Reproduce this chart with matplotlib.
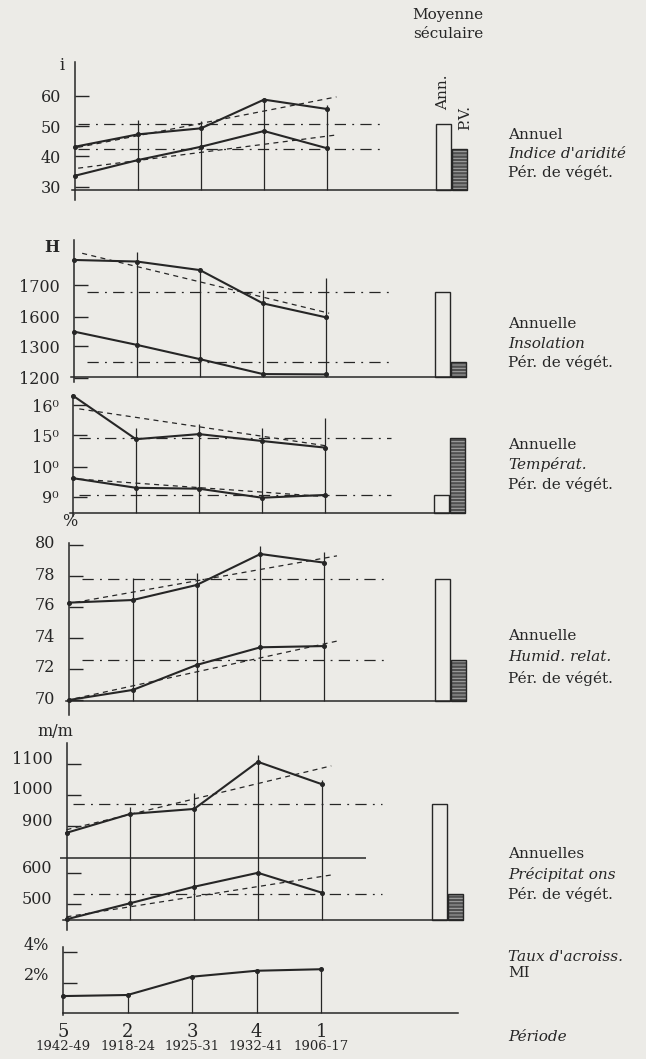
import numpy as np
import matplotlib
matplotlib.use("Agg")
import matplotlib.pyplot as plt
import matplotlib.transforms as mtransforms

# periods (in chart order) and their years
periods = ['5', '2', '3', '4', '1']
years = ['1942-49', '1918-24', '1925-31', '1932-41', '1906-17']

# indice d'aridite
arid_ann = [43.2, 47.3, 49.3, 58.8, 55.7]
arid_pv = [33.6, 38.8, 43.2, 48.4, 42.7]
arid_mean = [50.8, 42.6]          # Ann., P.V.
arid_trend_ann = [43.0, 59.7]
arid_trend_pv = [36.1, 47.1]
arid_vtop = [52.1, 51.7, 58.8, 57.0]

# insolation (H)
insol_ann = [1779, 1774, 1747, 1642, 1598]
insol_pv = [1346, 1304, 1259, 1212, 1211]
insol_mean = [1678, 1250]
insol_trend_ann = [1800, 1611]
insol_vtop = [1805, 1747, 1684, 1722]

# temperature
temp_ann = [9.61, 9.29, 9.26, 8.96, 9.05]
temp_pv = [16.31, 14.86, 15.03, 14.80, 14.58]
temp_mean = [9.05, 14.9]
temp_trend_ann = [9.58, 8.99]
temp_trend_pv = [15.87, 14.63]
temp_vtop = [15.23, 15.37, 15.23, 15.57]

# humidite relative
hum_ann = [76.28, 76.45, 77.42, 79.42, 78.86]
hum_pv = [70.0, 70.65, 72.26, 73.40, 73.48]
hum_mean = [77.8, 72.55]
hum_trend_ann = [76.3, 79.3]
hum_trend_pv = [70.1, 73.8]
hum_vtop = [77.87, 78.19, 79.94, 79.55]

# precipitations (m/m)
prec_ann = [878, 939, 955, 1107, 1035]
prec_pv = [451, 503, 556, 601, 537]
prec_mean = [970, 532]
prec_trend_ann = [888, 1094]
prec_trend_pv = [459, 594]
prec_vtop = [961, 1006, 1129, 1048]

# taux d'accroissement MI (%)
growth = [1.11, 1.18, 2.38, 2.77, 2.87]

ink = '#262626'
bg = '#ecebe7'
plt.rcParams['font.family'] = 'DejaVu Serif'

W, H = 646, 1059
fig = plt.figure(figsize=(W / 100, H / 100), dpi=100, facecolor=bg)
x = np.arange(len(periods))


def panel(x0, unit, box, ref, spine, base_px, ticks, labels, shift=0):
    # ref = (pixel, value, pixels per unit) of the hand drawn scale
    p_ref, v_ref, k = ref
    val = lambda p: v_ref - (p - p_ref) / k
    xlo, xhi = -0.6, 6.6
    ax = fig.add_axes([(x0 + xlo * unit) / W, 1 - box[1] / H,
                       (xhi - xlo) * unit / W, (box[1] - box[0]) / H])
    ax.set_xlim(xlo, xhi)
    ax.set_ylim(val(box[1]), val(box[0]))
    ax.patch.set_alpha(0)
    for s in ['top', 'right']:
        ax.spines[s].set_visible(False)
    base = val(base_px)
    ax.spines['left'].set_position(('data', 0))
    ax.spines['left'].set_bounds(val(spine[1]), val(spine[0]))
    ax.spines['bottom'].set_position(('data', base))
    ax.spines['bottom'].set_bounds(-0.05, 6.22)
    for s in ['left', 'bottom']:
        ax.spines[s].set_color(ink)
        ax.spines[s].set_linewidth(1.1)
    ax.set_xticks([])
    ax.set_yticks(ticks, labels)
    ax.tick_params(axis='y', direction='in', length=10, width=1.0,
                   pad=10, labelsize=11.5, colors=ink)
    if shift:
        off = mtransforms.ScaledTranslation(0, shift / 100, fig.dpi_scale_trans)
        for lab in ax.get_yticklabels():
            lab.set_transform(lab.get_transform() + off)
    return ax, base


def draw(ax, base, ann, pv, mean, tr_ann, tr_pv, vtop, off_ann=0, off_pv=0,
         tr_x=(0.1, 4.1), mean_x=(0.1, 4.95)):
    ann = np.array(ann) + off_ann
    pv = np.array(pv) + off_pv
    ax.vlines(x[1:], base, vtop, color=ink, lw=0.9)
    for s in (ann, pv):
        ax.plot(x, s, color=ink, lw=1.5, marker='o', ms=2.6)
    if tr_ann is not None:
        ax.plot(tr_x, np.array(tr_ann) + off_ann, color=ink, lw=0.9, ls=(0, (4, 3.5)))
    if tr_pv is not None:
        ax.plot(tr_x, np.array(tr_pv) + off_pv, color=ink, lw=0.9, ls=(0, (4, 3.5)))
    ax.hlines([mean[0] + off_ann, mean[1] + off_pv], *mean_x, color=ink, lw=0.9,
              ls=(0, (9, 5, 1.5, 5)))
    ax.bar(5.73, mean[0] + off_ann - base, bottom=base, width=0.24, align='edge',
           facecolor='none', edgecolor=ink, lw=1.0)
    ax.bar(5.98, mean[1] + off_pv - base, bottom=base, width=0.24, align='edge',
           facecolor='#505050', edgecolor='#a8a8a8', hatch='-----', lw=0)
    ax.bar(5.98, mean[1] + off_pv - base, bottom=base, width=0.24, align='edge',
           facecolor='none', edgecolor=ink, lw=1.0)


plt.rcParams['hatch.linewidth'] = 0.7

# 1 - indice d'aridite
ax1, b1 = panel(75, 63, (55, 205), (96, 60, 3.02), (62, 200), 190,
                [60, 50, 40, 30], ['60', '50', '40', '30'])
draw(ax1, b1, arid_ann, arid_pv, arid_mean, arid_trend_ann, arid_trend_pv,
     arid_vtop, tr_x=(0.05, 4.15), mean_x=(0.05, 4.9))

# 2 - insolation (P.V. drawn below an axis break)
off_h = 207
ax2, b2 = panel(74, 63, (235, 385), (285, 1700, 0.317), (240, 382), 376.7,
                [1700, 1600, 1300 + off_h, 1200 + off_h], ['1700', '1600', '1300', '1200'])
draw(ax2, b2, insol_ann, insol_pv, insol_mean, insol_trend_ann, None,
     insol_vtop, off_pv=off_h, tr_x=(0.13, 4.05), mean_x=(0.2, 5.05))

# 3 - temperature (annual drawn below an axis break)
off_t = 3.95
ax3, b3 = panel(73, 63, (390, 520), (435, 15, 30), (395.7, 516), 513,
                [16, 15, 10 + off_t, 9 + off_t], ['16⁰', '15⁰', '10⁰', '9⁰'])
draw(ax3, b3, temp_ann, temp_pv, temp_mean, temp_trend_ann, temp_trend_pv,
     temp_vtop, off_ann=off_t, tr_x=(0.1, 4.05), mean_x=(0.1, 5.05))

# 4 - humidite relative
ax4, b4 = panel(69, 63.8, (535, 720), (545, 80, 15.5), (543, 715), 700.7,
                [80, 78, 76, 74, 72, 70], ['80', '78', '76', '74', '72', '70'], shift=3)
draw(ax4, b4, hum_ann, hum_pv, hum_mean, hum_trend_ann, hum_trend_pv,
     hum_vtop, tr_x=(0.1, 4.2), mean_x=(0.2, 5.0))

# 5 - precipitations (P.V. drawn below an axis break)
off_p = 148
ax5, b5 = panel(66.5, 63.8, (738, 932), (795, 1000, 0.31), (743, 930), 920,
                [1100, 1000, 900, 600 + off_p, 500 + off_p],
                ['1100', '1000', '900', '600', '500'], shift=7)
draw(ax5, b5, prec_ann, prec_pv, prec_mean, prec_trend_ann, prec_trend_pv,
     prec_vtop, off_pv=off_p, tr_x=(0.0, 4.15), mean_x=(0.1, 4.95))
ax5.hlines(1000 - (857.7 - 795) / 0.31, -0.1, 4.7, color=ink, lw=1.1)

# 6 - taux d'accroissement
ax6, b6 = panel(63, 64.5, (942, 1016), (1013, 0, 15.25), (947, 1015), 1013,
                [4, 2], ['4%', '2%'], shift=9)
ax6.spines['bottom'].set_bounds(0, 6.12)
ax6.vlines(x[1:], 0, growth[1:], color=ink, lw=0.9)
ax6.plot(x, growth, color=ink, lw=1.5, marker='o', ms=2.6)
ax6.set_xticks(x, periods)
ax6.tick_params(axis='x', length=0, pad=7, labelsize=13, colors=ink)
yr_tr = mtransforms.blended_transform_factory(ax6.transData, fig.transFigure)
for xi, yr in zip(x, years):
    ax6.text(xi, 1 - 1047 / H, yr, transform=yr_tr, ha='center', va='center',
             fontsize=9.5, color=ink)

# axis units
for s, px, py in [('i', 62, 65), ('H', 52, 247), ('%', 70, 522), ('m/m', 55, 731)]:
    fig.text(px / W, 1 - py / H, s, ha='center', va='center', fontsize=11.5,
             color=ink, fontweight='bold' if s == 'H' else 'normal')

# header over the bars
fig.text(448 / W, 1 - 15 / H, 'Moyenne', ha='center', va='center', fontsize=11, color=ink)
fig.text(448 / W, 1 - 34 / H, 'séculaire', ha='center', va='center', fontsize=11, color=ink)
fig.text(443 / W, 1 - 92 / H, 'Ann.', ha='center', va='center', rotation=90,
         fontsize=11, color=ink)
fig.text(465 / W, 1 - 118 / H, 'P.V.', ha='center', va='center', rotation=90,
         fontsize=11, color=ink)

# right hand captions
captions = [
    ('Annuel', 135, 'normal'), ("Indice d'aridité", 154, 'italic'), ('Pér. de végét.', 173, 'normal'),
    ('Annuelle', 324, 'normal'), ('Insolation', 344, 'italic'), ('Pér. de végét.', 363, 'normal'),
    ('Annuelle', 445, 'normal'), ('Températ.', 465, 'italic'), ('Pér. de végét.', 485, 'normal'),
    ('Annuelle', 636, 'normal'), ('Humid. relat.', 657, 'italic'), ('Pér. de végét.', 678, 'normal'),
    ('Annuelles', 854, 'normal'), ('Précipitat ons', 874, 'italic'), ('Pér. de végét.', 894, 'normal'),
    ("Taux d'acroiss.", 957, 'italic'), ('MI', 973, 'normal'),
    ('Période', 1037, 'italic'),
]
for s, py, st in captions:
    fig.text(508 / W, 1 - py / H, s, ha='left', va='center', fontsize=11,
             style=st, color=ink)

fig.savefig('out.png', dpi=100, facecolor=bg)
